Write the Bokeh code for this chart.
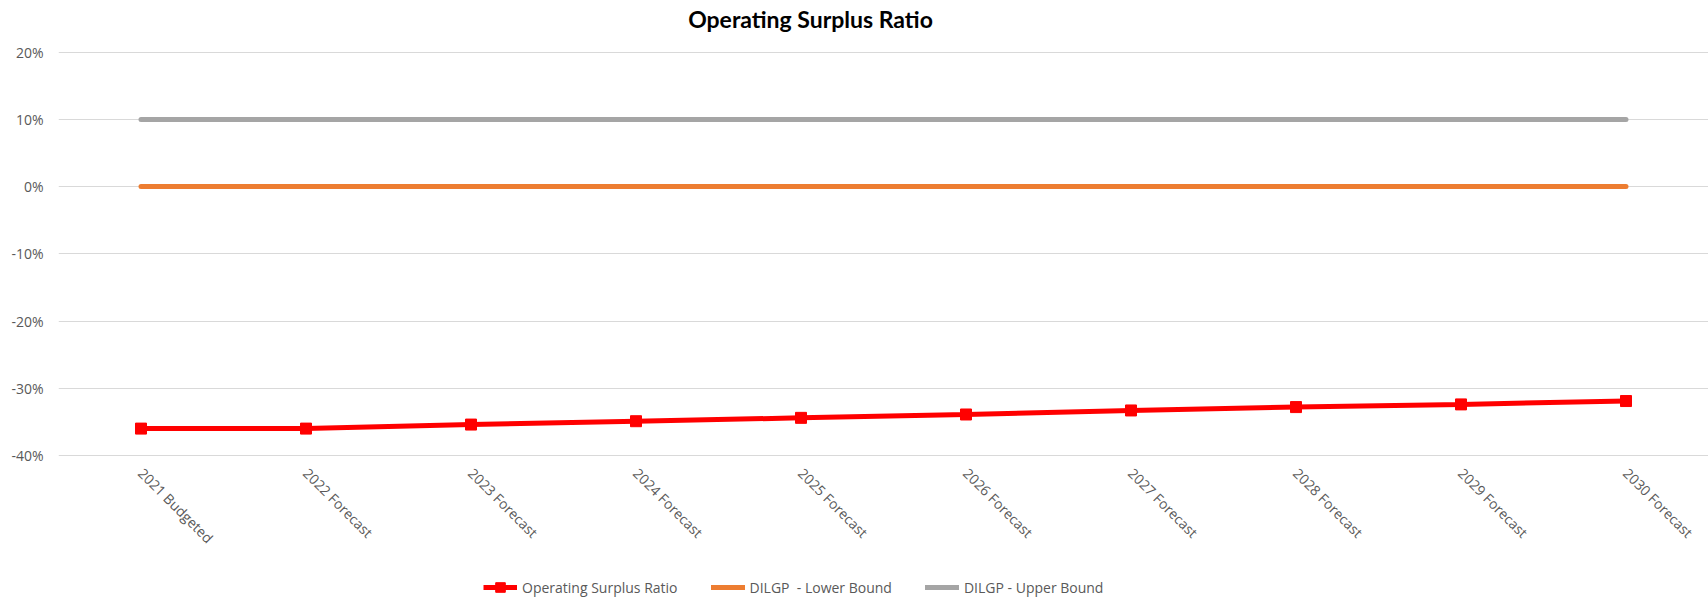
import math
from bokeh.plotting import figure
from bokeh.layouts import column
from bokeh.models import (FactorRange, Range1d, FixedTicker, NumeralTickFormatter,
                          Legend, LegendItem, Label)
from bokeh.embed import file_html
from bokeh.resources import INLINE

categories = ["2021 Budgeted", "2022 Forecast", "2023 Forecast", "2024 Forecast",
              "2025 Forecast", "2026 Forecast", "2027 Forecast", "2028 Forecast",
              "2029 Forecast", "2030 Forecast"]
operating_surplus_ratio = [-0.360, -0.360, -0.354, -0.349, -0.344, -0.339, -0.333, -0.328, -0.324, -0.319]
lower_bound = [0.0] * 10
upper_bound = [0.10] * 10
y_ticks = [-0.4, -0.3, -0.2, -0.1, 0.0, 0.1, 0.2]

RED, ORANGE, GRAY = "#FF0000", "#ED7D31", "#A5A5A5"


def strip(height):
    f = figure(width=1708, height=height, x_range=Range1d(0, 1), y_range=Range1d(0, 1),
               output_backend="svg", toolbar_location=None,
               min_border_left=0, min_border_right=0, min_border_top=0, min_border_bottom=0)
    f.outline_line_color = None
    f.axis.visible = False
    f.grid.visible = False
    f.background_fill_color = "white"
    f.border_fill_color = "white"
    return f


# title strip
tf = strip(36)
tf.add_layout(Label(x=752, y=17.5, x_units="screen", y_units="screen",
                    text="Operating Surplus Ratio", text_align="center", text_baseline="middle",
                    text_font="Lato", text_font_style="bold", text_font_size="23px",
                    text_color="#000000"))

# main chart
p = figure(width=1708, height=523, x_range=FactorRange(*categories),
           y_range=Range1d(-0.4015, 0.2010), output_backend="svg", toolbar_location=None,
           min_border_left=58, min_border_right=0, min_border_top=15, min_border_bottom=103)
p.outline_line_color = None
p.background_fill_color = "white"
p.border_fill_color = "white"

p.xgrid.grid_line_color = None
p.ygrid.grid_line_color = "#d9d9d9"
p.ygrid.grid_line_width = 1

p.yaxis.ticker = FixedTicker(ticks=y_ticks)
p.yaxis.formatter = NumeralTickFormatter(format="0%")
p.yaxis.axis_line_color = None
p.yaxis.major_tick_line_color = None
p.yaxis.minor_tick_line_color = None
p.yaxis.major_tick_out = 0
p.yaxis.major_label_standoff = 15
p.yaxis.major_label_text_font = "Open Sans"
p.yaxis.major_label_text_font_size = "14px"
p.yaxis.major_label_text_color = "#595959"

p.xaxis.axis_line_color = None
p.xaxis.major_tick_line_color = None
p.xaxis.minor_tick_line_color = None
p.xaxis.major_tick_out = 0
p.xaxis.major_label_standoff = 14
p.xaxis.major_label_orientation = -math.pi / 4
p.xaxis.major_label_text_font = "Open Sans"
p.xaxis.major_label_text_font_size = "14px"
p.xaxis.major_label_text_color = "#595959"

p.line(categories, operating_surplus_ratio, line_color=RED, line_width=5)
p.scatter(categories, operating_surplus_ratio, marker="square", size=11,
          fill_color=RED, line_color=RED)
p.line(categories, lower_bound, line_color=ORANGE, line_width=5, line_cap="round")
p.line(categories, upper_bound, line_color=GRAY, line_width=5, line_cap="round")

# legend strip: same series, drawn out of view, only the legend shows
lg = figure(width=1708, height=40, x_range=FactorRange(*categories),
            y_range=Range1d(5, 6), output_backend="svg", toolbar_location=None,
            min_border_left=0, min_border_right=0, min_border_top=0, min_border_bottom=0)
lg.outline_line_color = None
lg.axis.visible = False
lg.grid.visible = False
lg.background_fill_color = "white"
lg.border_fill_color = "white"
l_red = lg.line(categories, operating_surplus_ratio, line_color=RED, line_width=5)
l_red_m = lg.scatter(categories, operating_surplus_ratio, marker="square", size=11,
                     fill_color=RED, line_color=RED)
l_or = lg.line(categories, lower_bound, line_color=ORANGE, line_width=5, line_cap="round")
l_gr = lg.line(categories, upper_bound, line_color=GRAY, line_width=5, line_cap="round")

legend = Legend(items=[
    LegendItem(label="Operating Surplus Ratio", renderers=[l_red, l_red_m]),
    LegendItem(label="DILGP  - Lower Bound", renderers=[l_or]),
    LegendItem(label="DILGP - Upper Bound", renderers=[l_gr]),
], orientation="horizontal", location=(425, 0), padding=0, margin=0,
    spacing=33, label_standoff=5, glyph_width=34, glyph_height=24, label_height=16,
    label_text_font="Open Sans", label_text_font_size="14px", label_text_color="#595959",
    background_fill_alpha=0, border_line_color=None)
lg.add_layout(legend, "center")

layout = column(tf, p, lg, spacing=0)
open("out.html", "w").write(file_html(layout, INLINE))
